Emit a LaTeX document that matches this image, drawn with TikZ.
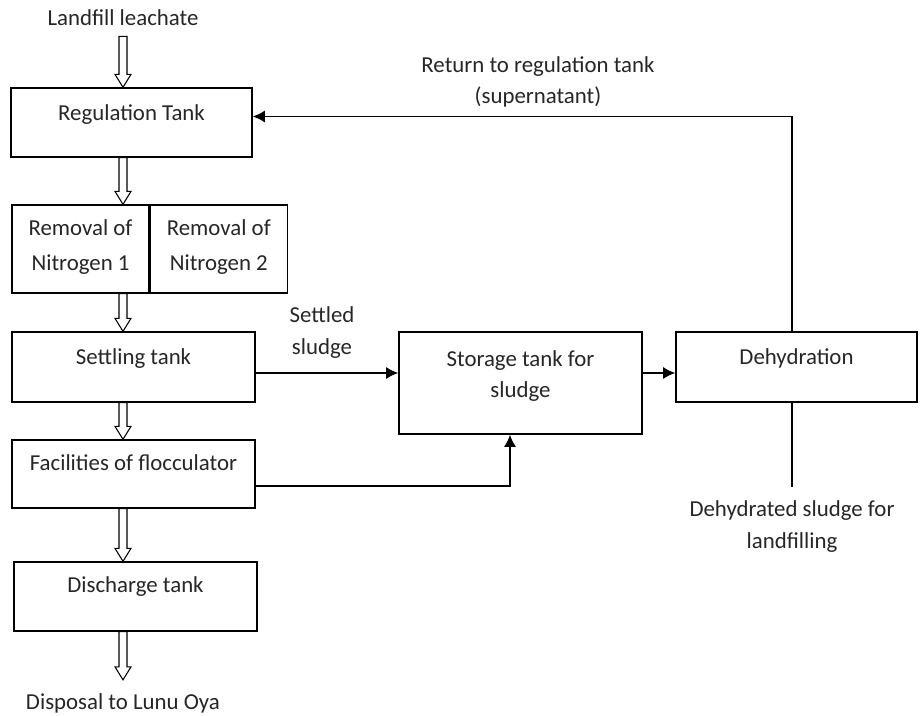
\documentclass[tikz,border=0pt]{standalone}
\usepackage{fontspec}
\setmainfont{Carlito}
\usetikzlibrary{arrows.meta, calc, positioning}

\tikzset{
  box/.style={draw, line width=0.75pt, inner xsep=2pt, inner ysep=0pt, text height=0.66cm, align=center},
  txt/.style={align=center, inner sep=0pt},
  flow/.style={->, line width=1.1pt},
}

% open block arrow down the left column
\newcommand{\hollowarrow}[2]{%
  \draw[line width=0.6pt, fill=white] ($(#1.south -| axis)+(-4,0)$) -- ($(#2.north -| axis)+(-4,-13)$)
    -- ++(-4,0) -- (#2.north -| axis) -- ($(#2.north -| axis)+(8,-13)$) -- ++(-4,0)
    -- ($(#1.south -| axis)+(4,0)$) -- cycle;}

\begin{document}
\begin{tikzpicture}[x=0.02cm, y=-0.02cm, >={Latex[length=7pt, width=7pt]},
  font=\fontsize{13}{18.2}\selectfont, text=black!85]

  \useasboundingbox (0,0) rectangle (921,716);
  \coordinate (axis) at (123,0);

  \node[txt, inner ysep=5.7pt] (leach) at (123,18) {Landfill leachate};
  \node[box, minimum width=4.82cm, text depth=0.72cm] (reg) at (131.5,122.5) {Regulation Tank};
  \node[box, minimum width=2.74cm, text height=1.32cm, text depth=0.44cm] (rem1) at (80.5,249) {Removal of\\[2pt]Nitrogen 1};
  \node[box, minimum width=2.74cm, text height=1.32cm, text depth=0.44cm, right=0pt of rem1] (rem2) {Removal of\\[2pt]Nitrogen 2};
  \node[box, minimum width=4.86cm, text depth=0.74cm] (settle) at (133.5,367) {Settling tank};
  \node[box, minimum width=4.86cm, text height=0.62cm, text depth=0.74cm] (floc) at (133.5,474) {Facilities of flocculator};
  \node[box, minimum width=4.86cm, text height=0.62cm, text depth=0.76cm] (disch) at (135.5,596.5) {Discharge tank};
  \node[txt, inner ysep=7.4pt] (dispo) at (123,703) {Disposal to Lunu Oya};

  \node[box, minimum width=4.86cm, text height=1.32cm, text depth=0.72cm] (store) at (520.5,383) {Storage tank for\\sludge};
  \node[box, minimum width=4.82cm, text depth=0.74cm] (dehyd) at (796.5,367) {Dehydration};

  \node[txt] (settled) at (322,333) {Settled\\sludge};
  \node[txt] (ret) at (538,82) {Return to regulation tank\\[-1pt](supernatant)};
  \node[txt] (dsl) at (792,527) {Dehydrated sludge for\\landfilling};

  \hollowarrow{leach}{reg}
  \hollowarrow{reg}{rem1}
  \hollowarrow{rem1}{settle}
  \hollowarrow{settle}{floc}
  \hollowarrow{floc}{disch}
  \hollowarrow{disch}{dispo}

  \draw[flow] ($(settle.east)+(0,6)$) -- ($(store.west)+(0,-10)$);
  \draw[flow] ($(floc.east)+(0,12)$) -| ($(store.south)+(-10.5,0)$);
  \draw[flow] ($(store.east)+(0,-10)$) -- ($(dehyd.west)+(0,6)$);
  \draw[flow] ($(dehyd.north)+(-4.5,0)$) |- ($(reg.east)+(0,-6)$);
  \draw[line width=1.1pt, shorten >=8pt] (dsl.north |- dehyd.south) -- (dsl.north);

\end{tikzpicture}
\end{document}
